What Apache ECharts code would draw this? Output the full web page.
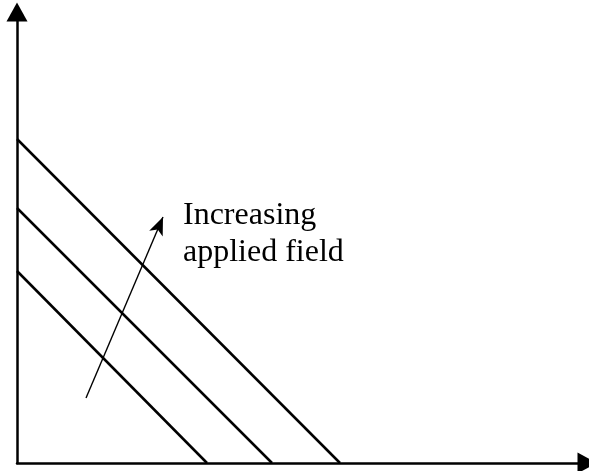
<!DOCTYPE html>
<html>
<head>
<meta charset="utf-8">
<script src="https://cdn.jsdelivr.net/npm/echarts@6/dist/echarts.min.js"></script>
<style>
  html, body { margin: 0; padding: 0; background: #fff; }
  #main { width: 589px; height: 471px; }
</style>
</head>
<body>
<div id="main"></div>
<script>
// intercepts of the three lines (arbitrary units)
const yIntercepts = [192, 255, 324];
const xIntercepts = [190, 255, 323];
// arrow "increasing applied field": start and end point
const arrowStart = [69, 65];
const arrowEnd = [146, 246];
const noteLines = ['Increasing', 'applied field'];

const chart = echarts.init(document.getElementById('main'));

const lineSeries = yIntercepts.map((y0, i) => ({
  type: 'line',
  data: [[0, y0], [xIntercepts[i], 0]],
  symbol: 'none',
  lineStyle: { color: '#000', width: 2.5 },
  silent: true,
}));

// arrow goes on the first series as a markLine
lineSeries[0].markLine = {
  silent: true,
  symbol: ['none', 'arrow'],
  symbolSize: [11, 18],
  label: { show: false },
  lineStyle: { color: '#000', width: 1.4, type: 'solid' },
  data: [[{ coord: arrowStart }, { coord: arrowEnd }]],
};

const axisCommon = {
  type: 'value',
  min: 0,
  axisLine: {
    show: true,
    onZero: false,
    symbol: ['none', 'triangle'],
    symbolSize: [21, 19],
    lineStyle: { color: '#000', width: 2.5 },
  },
  axisTick: { show: false },
  axisLabel: { show: false },
  splitLine: { show: false },
};

chart.setOption({
  animation: false,
  grid: { left: 17, right: 2, top: 12, bottom: 8 },
  xAxis: { ...axisCommon, max: 570 },
  yAxis: { ...axisCommon, max: 451 },
  series: lineSeries,
  graphic: [{
    type: 'text',
    left: 183,
    top: 197,
    style: {
      text: noteLines.join('\n'),
      font: '32px "Liberation Serif"',
      lineHeight: 37,
      fill: '#000',
    },
  }],
});
</script>
</body>
</html>
